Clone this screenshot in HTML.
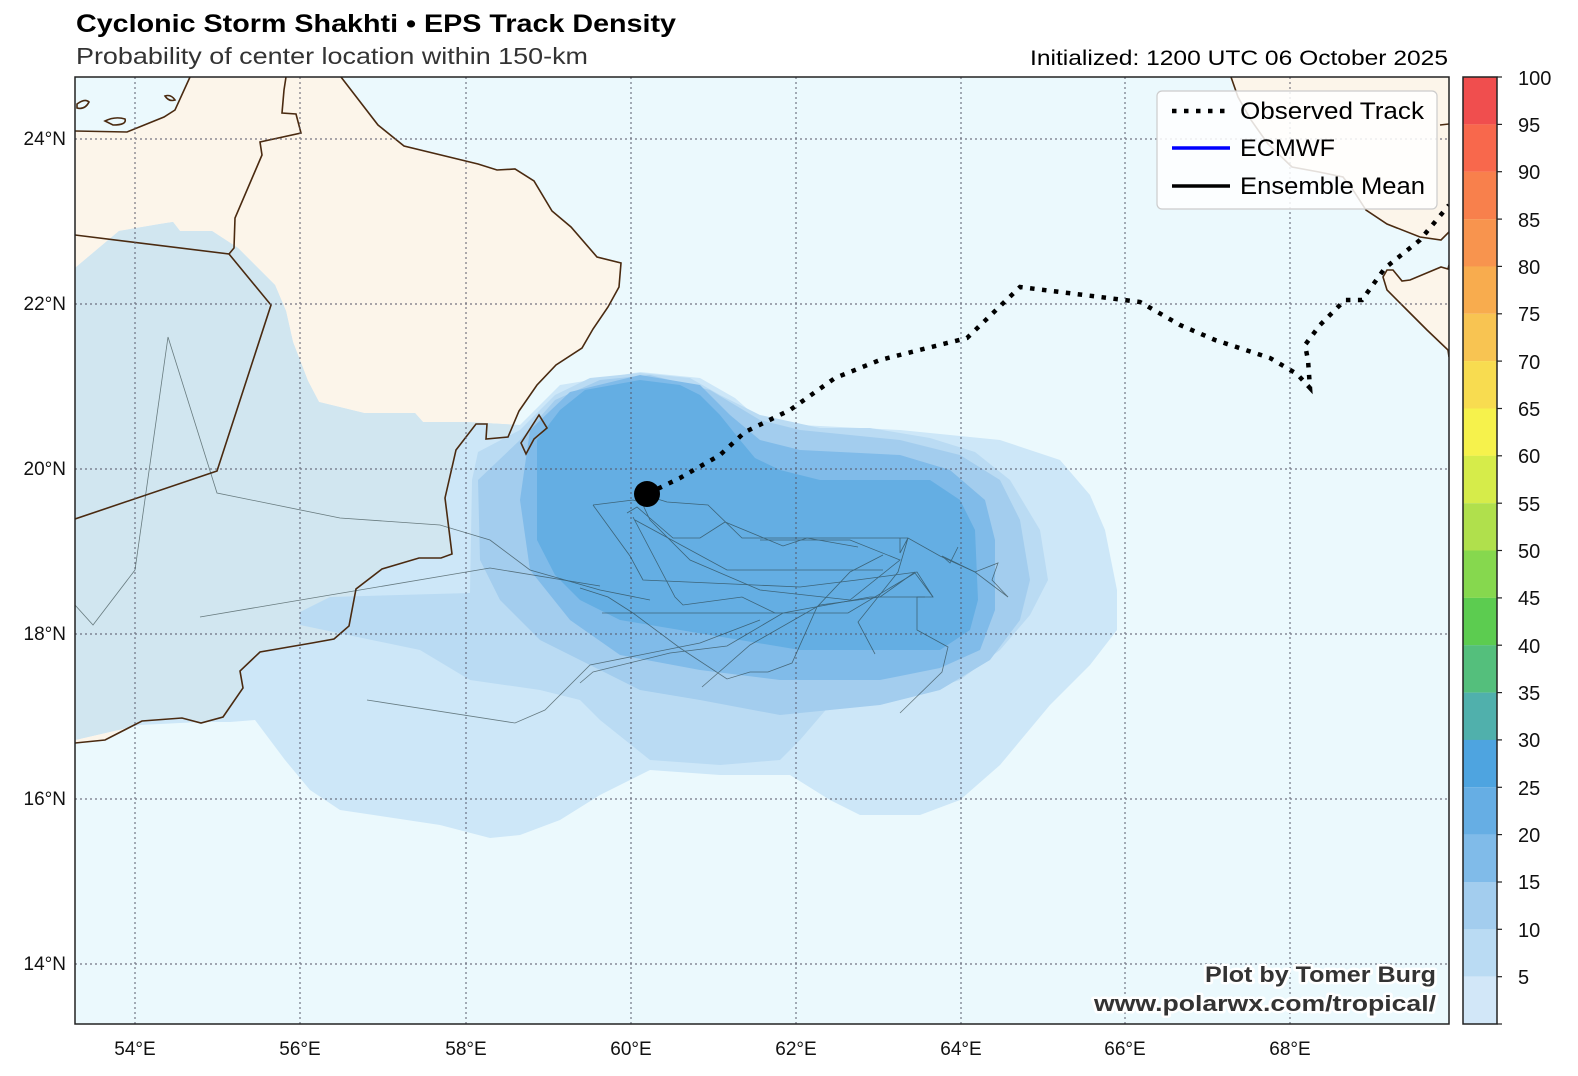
<!DOCTYPE html>
<html><head><meta charset="utf-8"><style>
html,body{margin:0;padding:0;background:#fff;overflow:hidden;width:1578px;height:1076px;}
svg{display:block;font-family:"Liberation Sans",sans-serif;}
</style></head><body>
<svg width="1578" height="1076" viewBox="0 0 1578 1076" xmlns="http://www.w3.org/2000/svg">
<defs>
<clipPath id="map"><rect x="75" y="77" width="1374" height="947"/></clipPath>
<clipPath id="l1"><polygon id="L1p" points="75,268 119,231 160,224 173,222 180,231 212,231 238,248 275,285 286,311 293,342 308,381 319,402 364,413 415,413 423,422 467,422 520,425 560,385 640,372 700,378 735,398 760,420 800,425 900,430 1000,440 1060,460 1090,495 1105,530 1117,590 1117,630 1090,665 1050,705 1000,765 960,800 920,815 860,815 830,800 790,775 720,775 650,770 600,795 560,820 520,835 490,838 440,825 340,810 310,790 285,760 270,740 255,720 230,722 200,722 140,725 75,740"/></clipPath>
</defs>
<rect x="75" y="77" width="1374" height="947" fill="#ebf9fd"/>
<g clip-path="url(#map)">
<g fill="#fcf5ea">
<polygon id="arab" points="75,131 127,132 164,117 175,110 190,77 341,77 378,125 404,146 478,164 497,170 515,169 534,181 552,211 571,227 597,257 621,263 619,287 608,307 593,329 582,348 556,365 537,385 519,411 508,437 486,439 487,424 476,424 456,450 445,498 452,554 441,558 419,558 382,569 356,589 349,626 334,639 312,643 260,652 240,671 243,688 223,717 201,723 182,718 142,721 105,740 75,743"/>
<polygon points="1231,77 1238,97 1251,120 1268,144 1292,167 1319,172 1343,177 1353,190 1366,210 1387,224 1420,237 1441,240 1449,232 1449,77"/>
<polygon points="1449,265 1448,269 1441,267 1410,280 1402,281 1393,270 1387,270 1383,277 1387,290 1407,310 1427,330 1448,350 1449,357"/>
<polygon points="521,443 539,415 547,428 534,439 526,454"/>
</g>
<use href="#L1p" fill="#cde7f8"/>
<g clip-path="url(#l1)"><use href="#arab" fill="#d1e6f0"/></g>
<polygon fill="#badbf3" points="300,612 330,597 470,593 472,480 478,452 520,430 555,395 590,378 640,373 690,378 720,395 760,415 820,428 870,428 930,438 975,452 1010,480 1040,530 1048,580 1030,615 1000,650 960,680 880,705 830,705 800,740 780,760 720,765 650,760 600,720 580,700 540,690 470,680 420,650 300,625"/>
<polygon fill="#a3cdee" points="478,480 520,440 555,400 600,380 650,375 710,390 760,420 800,430 900,440 960,455 1000,480 1020,520 1030,580 1020,620 990,660 940,690 880,705 780,715 700,700 640,690 590,665 540,640 500,600 480,560"/>
<polygon fill="#80bbe9" points="520,500 530,430 570,392 640,375 700,385 730,415 760,440 800,450 900,455 950,470 985,500 995,540 995,610 980,650 940,668 880,680 780,680 700,670 620,655 570,620 530,570"/>
<polygon fill="#64aee3" points="537,440 560,410 585,390 640,380 680,385 700,395 720,415 740,440 755,458 780,470 820,480 880,480 930,480 960,500 975,530 978,600 970,630 940,650 880,650 800,650 740,640 680,630 620,620 580,600 555,575 537,540"/>
<g fill="none" stroke="#4a2a10" stroke-width="1.6">
<polyline points="75,131 127,132 164,117 175,110 190,77"/>
<polyline points="341,77 378,125 404,146 478,164 497,170 515,169 534,181 552,211 571,227 597,257 621,263 619,287 608,307 593,329 582,348 556,365 537,385 519,411 508,437 486,439 487,424 476,424 456,450 445,498 452,554 441,558 419,558 382,569 356,589 349,626 334,639 312,643 260,652 240,671 243,688 223,717 201,723 182,718 142,721 105,740 75,743"/>
<polygon points="521,443 539,415 547,428 534,439 526,454"/>
<polyline points="1231,77 1238,97 1251,120 1268,144 1292,167 1319,172 1343,177 1353,190 1366,210 1387,224 1420,237 1441,240 1449,232"/>
<polyline points="1449,265 1448,269 1441,267 1410,280 1402,281 1393,270 1387,270 1383,277 1387,290 1407,310 1427,330 1448,350 1449,357"/>
<polyline points="1440,125 1449,124"/>
<polyline points="286,77 284,90 282,113 296,114 301,133 260,142 262,155 235,218 234,248 229,254"/>
<polyline points="75,235 229,254 271,305 217,471 75,519"/>
<path d="M77,104 q8,-6 12,-2 q-4,8 -12,6z M105,121 q10,-5 20,-2 q2,6 -12,6z M165,96 q6,-2 10,4 q-6,2 -10,-4z"/>
</g>
<g stroke="#556" stroke-width="1.2" stroke-dasharray="2,3" opacity="0.8">
<line x1="135" y1="77" x2="135" y2="1024"/><line x1="300" y1="77" x2="300" y2="1024"/><line x1="466" y1="77" x2="466" y2="1024"/><line x1="631" y1="77" x2="631" y2="1024"/><line x1="796" y1="77" x2="796" y2="1024"/><line x1="961" y1="77" x2="961" y2="1024"/><line x1="1125" y1="77" x2="1125" y2="1024"/><line x1="1290" y1="77" x2="1290" y2="1024"/>
<line x1="75" y1="139" x2="1449" y2="139"/><line x1="75" y1="304" x2="1449" y2="304"/><line x1="75" y1="469" x2="1449" y2="469"/><line x1="75" y1="634" x2="1449" y2="634"/><line x1="75" y1="799" x2="1449" y2="799"/><line x1="75" y1="964" x2="1449" y2="964"/>
</g>
<g fill="none" stroke="#233" stroke-width="0.8" opacity="0.6">
<polyline points="651,497 667,502 708,505 742,538 818,538 883,538 908,538 940,556 975,572 1008,597"/>
<polyline points="627,513 637,507 673,538 700,538 725,522 783,546 807,538 858,547"/>
<polyline points="593,505 633,500 643,503"/>
<polyline points="593,505 630,556 643,580 800,587 857,580 917,572 933,597 917,597 917,630 948,647 942,672 900,713"/>
<polyline points="633,517 675,597 683,605 742,597 775,613 848,613 915,573 933,597"/>
<polyline points="580,588 608,597 633,613 680,648 727,679 750,672 768,672 792,663 817,607 850,572 883,555"/>
<polyline points="580,683 593,672 670,653 727,646 783,613 870,597 925,597"/>
<polyline points="702,687 750,645 820,605 880,597 915,572"/>
<polyline points="875,654 858,622 898,572 908,538 900,553 900,538"/>
<polyline points="635,520 727,570 883,570"/>
<polyline points="602,613 783,613"/>
<polyline points="958,547 950,563 942,556 975,572 998,563 992,580 1008,597"/>
<polyline points="643,505 650,520 690,560 760,590 850,600 900,560 850,540 760,540"/>
<polyline points="200,617 490,568 600,586"/>
<polyline points="367,700 515,723 545,710 590,665 700,643 760,620"/>
<polyline points="75,605 93,625 135,570 168,337 217,493 340,518 440,525 490,540 530,570 600,590 650,600"/>
</g>
<polyline fill="none" stroke="#000" stroke-width="4.5" stroke-dasharray="4.5,7.5" points="647,494 680,478 720,455 745,432 790,410 835,378 880,360 967,338 1020,287 1140,302 1180,325 1215,340 1270,358 1297,374 1310,388 1308,360 1305,345 1320,325 1345,300 1362,300 1385,268 1420,240 1449,205"/>
<circle cx="647" cy="494" r="13" fill="#000"/>
<g font-weight="bold" font-size="22" text-anchor="end" fill="#333" stroke="#fff" stroke-width="5" paint-order="stroke" stroke-linejoin="round">
<text x="1436" y="982" textLength="231" lengthAdjust="spacingAndGlyphs">Plot by Tomer Burg</text>
<text x="1436" y="1011" textLength="342" lengthAdjust="spacingAndGlyphs">www.polarwx.com/tropical/</text>
</g>
<rect x="1157" y="91" width="280" height="118" rx="5" fill="#fff" fill-opacity="0.85" stroke="#ccc" stroke-width="1.2"/>
<line x1="1172" y1="111" x2="1228" y2="111" stroke="#000" stroke-width="4.5" stroke-dasharray="4.5,7.5"/>
<line x1="1172" y1="148" x2="1230" y2="148" stroke="#00f" stroke-width="3.5"/>
<line x1="1172" y1="186" x2="1230" y2="186" stroke="#000" stroke-width="3.5"/>
<g font-size="24" fill="#000">
<text x="1240" y="119" textLength="184" lengthAdjust="spacingAndGlyphs">Observed Track</text>
<text x="1240" y="156" textLength="95" lengthAdjust="spacingAndGlyphs">ECMWF</text>
<text x="1240" y="194" textLength="185" lengthAdjust="spacingAndGlyphs">Ensemble Mean</text>
</g>
</g>
<rect x="75" y="77" width="1374" height="947" fill="none" stroke="#222" stroke-width="1.5"/>
<g font-size="19" fill="#111" text-anchor="end">
<text x="66" y="145">24°N</text><text x="66" y="310">22°N</text><text x="66" y="475">20°N</text><text x="66" y="640">18°N</text><text x="66" y="805">16°N</text><text x="66" y="970">14°N</text>
</g>
<g font-size="19" fill="#111" text-anchor="middle">
<text x="135" y="1055">54°E</text><text x="300" y="1055">56°E</text><text x="466" y="1055">58°E</text><text x="631" y="1055">60°E</text><text x="796" y="1055">62°E</text><text x="961" y="1055">64°E</text><text x="1125" y="1055">66°E</text><text x="1290" y="1055">68°E</text>
</g>
<text x="76" y="32" font-size="25" font-weight="bold" fill="#000" textLength="600" lengthAdjust="spacingAndGlyphs">Cyclonic Storm Shakhti • EPS Track Density</text>
<text x="76" y="64" font-size="23" fill="#333" textLength="512" lengthAdjust="spacingAndGlyphs">Probability of center location within 150-km</text>
<text x="1448" y="65" font-size="21" fill="#000" text-anchor="end" textLength="418" lengthAdjust="spacingAndGlyphs">Initialized: 1200 UTC 06 October 2025</text>
<g>
<rect x="1463" y="77.0" width="34" height="47.4" fill="#f04e4e"/>
<rect x="1463" y="124.4" width="34" height="47.4" fill="#f8684c"/>
<rect x="1463" y="171.7" width="34" height="47.4" fill="#f8804c"/>
<rect x="1463" y="219.1" width="34" height="47.4" fill="#f8944e"/>
<rect x="1463" y="266.4" width="34" height="47.4" fill="#f8ac4e"/>
<rect x="1463" y="313.8" width="34" height="47.4" fill="#f8c452"/>
<rect x="1463" y="361.1" width="34" height="47.4" fill="#f8dc50"/>
<rect x="1463" y="408.5" width="34" height="47.4" fill="#f6f24c"/>
<rect x="1463" y="455.8" width="34" height="47.4" fill="#d6ec4a"/>
<rect x="1463" y="503.2" width="34" height="47.4" fill="#b0e04c"/>
<rect x="1463" y="550.5" width="34" height="47.4" fill="#86d84e"/>
<rect x="1463" y="597.9" width="34" height="47.4" fill="#5ccc50"/>
<rect x="1463" y="645.2" width="34" height="47.4" fill="#54bf7c"/>
<rect x="1463" y="692.6" width="34" height="47.4" fill="#50b0ac"/>
<rect x="1463" y="739.9" width="34" height="47.4" fill="#4ea4e0"/>
<rect x="1463" y="787.3" width="34" height="47.4" fill="#66aee4"/>
<rect x="1463" y="834.6" width="34" height="47.4" fill="#80bbe9"/>
<rect x="1463" y="882.0" width="34" height="47.4" fill="#a3cdee"/>
<rect x="1463" y="929.3" width="34" height="47.4" fill="#badbf3"/>
<rect x="1463" y="976.7" width="34" height="47.3" fill="#d2e7f8"/>
<rect x="1463" y="77" width="34" height="947" fill="none" stroke="#222" stroke-width="1.5"/>
</g>
<g stroke="#222" stroke-width="1.2">
<line x1="1497" y1="77" x2="1502" y2="77"/><line x1="1497" y1="124.4" x2="1502" y2="124.4"/><line x1="1497" y1="171.7" x2="1502" y2="171.7"/><line x1="1497" y1="219.1" x2="1502" y2="219.1"/><line x1="1497" y1="266.4" x2="1502" y2="266.4"/><line x1="1497" y1="313.8" x2="1502" y2="313.8"/><line x1="1497" y1="361.1" x2="1502" y2="361.1"/><line x1="1497" y1="408.5" x2="1502" y2="408.5"/><line x1="1497" y1="455.8" x2="1502" y2="455.8"/><line x1="1497" y1="503.2" x2="1502" y2="503.2"/><line x1="1497" y1="550.5" x2="1502" y2="550.5"/><line x1="1497" y1="597.9" x2="1502" y2="597.9"/><line x1="1497" y1="645.2" x2="1502" y2="645.2"/><line x1="1497" y1="692.6" x2="1502" y2="692.6"/><line x1="1497" y1="739.9" x2="1502" y2="739.9"/><line x1="1497" y1="787.3" x2="1502" y2="787.3"/><line x1="1497" y1="834.6" x2="1502" y2="834.6"/><line x1="1497" y1="882" x2="1502" y2="882"/><line x1="1497" y1="929.3" x2="1502" y2="929.3"/><line x1="1497" y1="976.7" x2="1502" y2="976.7"/><line x1="1497" y1="1024" x2="1502" y2="1024"/>
</g>
<g font-size="20" fill="#111">
<text x="1518" y="85">100</text><text x="1518" y="132">95</text><text x="1518" y="179">90</text><text x="1518" y="227">85</text><text x="1518" y="274">80</text><text x="1518" y="321">75</text><text x="1518" y="369">70</text><text x="1518" y="416">65</text><text x="1518" y="463">60</text><text x="1518" y="511">55</text><text x="1518" y="558">50</text><text x="1518" y="605">45</text><text x="1518" y="653">40</text><text x="1518" y="700">35</text><text x="1518" y="747">30</text><text x="1518" y="795">25</text><text x="1518" y="842">20</text><text x="1518" y="889">15</text><text x="1518" y="937">10</text><text x="1518" y="984">5</text>
</g>
</svg>
</body></html>
